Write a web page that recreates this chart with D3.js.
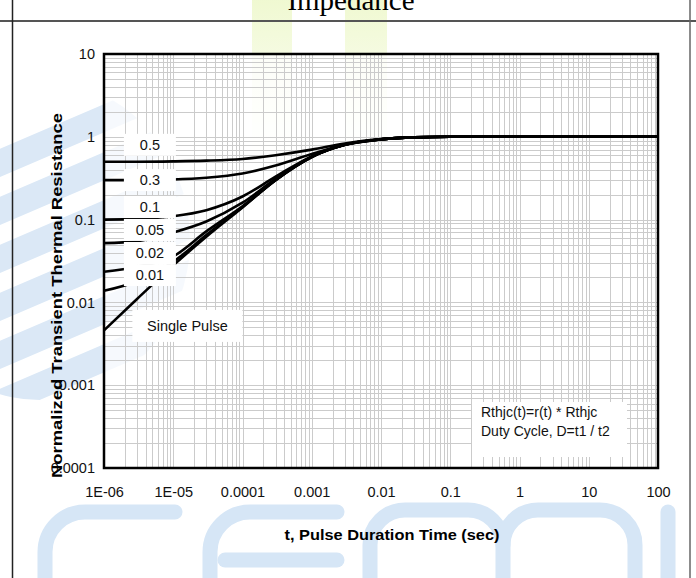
<!DOCTYPE html>
<html>
<head>
<meta charset="utf-8">
<script src="https://cdn.jsdelivr.net/npm/d3@7"></script>
<style>
  html, body { margin: 0; padding: 0; background: #fff; }
  svg { display: block; font-family: "Liberation Sans", Arial, sans-serif; }
</style>
</head>
<body>
<div id="chart"></div>
<script>
// pulse duration (sec) sampled along each curve
const times = [1e-6, 3e-6, 1e-5, 3e-5, 1e-4, 3e-4, 1e-3, 3e-3, 1e-2, 3e-2, 1e-1, 1, 10, 100];

// normalized transient thermal resistance r(t)
const d50 = [0.5, 0.5, 0.505, 0.515, 0.54, 0.6, 0.7, 0.83, 0.94, 0.985, 1, 1, 1, 1];
const d30 = [0.3, 0.3, 0.305, 0.32, 0.36, 0.45, 0.62, 0.8, 0.93, 0.985, 1, 1, 1, 1];
const d10 = [0.1, 0.102, 0.11, 0.13, 0.19, 0.33, 0.58, 0.8, 0.93, 0.985, 1, 1, 1, 1];
const d05 = [0.052, 0.055, 0.07, 0.095, 0.16, 0.31, 0.575, 0.8, 0.93, 0.985, 1, 1, 1, 1];
const d02 = [0.0235, 0.027, 0.036, 0.072, 0.145, 0.3, 0.57, 0.8, 0.93, 0.985, 1, 1, 1, 1];
const d01 = [0.0138, 0.018, 0.031, 0.065, 0.142, 0.3, 0.57, 0.8, 0.93, 0.985, 1, 1, 1, 1];
const single = [0.0046, 0.011, 0.028, 0.062, 0.14, 0.3, 0.57, 0.8, 0.93, 0.985, 1, 1, 1, 1];

const seriesValues = [d50, d30, d10, d05, d02, d01, single];
const seriesNames = ["0.5", "0.3", "0.1", "0.05", "0.02", "0.01", "Single Pulse"];

// where each curve's label sits, in data units
const labelTimes = [4.6e-6, 4.6e-6, 4.6e-6, 4.6e-6, 4.6e-6, 4.6e-6, 1.6e-5];
const labelValues = [0.8, 0.3, 0.142, 0.075, 0.0395, 0.0214, 0.0052];

const xTicks = [1e-6, 1e-5, 1e-4, 1e-3, 1e-2, 1e-1, 1, 10, 100];
const xTickLabels = ["1E-06", "1E-05", "0.0001", "0.001", "0.01", "0.1", "1", "10", "100"];
const yTicks = [1e-4, 1e-3, 1e-2, 1e-1, 1, 10];
const yTickLabels = ["0.0001", "0.001", "0.01", "0.1", "1", "10"];

const noteLines = ["Rthjc(t)=r(t) * Rthjc", "Duty Cycle, D=t1 /  t2"];

const width = 696;
const height = 578;
const plot = { left: 104, top: 54, right: 658, bottom: 468 };

const svg = d3.select("#chart").append("svg")
    .attr("width", width)
    .attr("height", height);

// faint background watermark
const wm = svg.append("g").attr("class", "watermark");
const defs = svg.append("defs");
const grad = defs.append("linearGradient")
    .attr("id", "band")
    .attr("x1", 0).attr("y1", 0).attr("x2", 0).attr("y2", 1);
grad.append("stop").attr("offset", "0%").attr("stop-color", "#eef8cc").attr("stop-opacity", 0.9);
grad.append("stop").attr("offset", "100%").attr("stop-color", "#eef8cc").attr("stop-opacity", 0);
wm.append("rect").attr("x", 252).attr("y", 0).attr("width", 40).attr("height", 160).attr("fill", "url(#band)");
wm.append("rect").attr("x", 345).attr("y", 0).attr("width", 42).attr("height", 160).attr("fill", "url(#band)");

defs.append("clipPath").attr("id", "logoClip")
    .append("ellipse")
    .attr("cx", 40).attr("cy", 240).attr("rx", 150).attr("ry", 160);
const stripes = wm.append("g").attr("clip-path", "url(#logoClip)");
d3.range(6).forEach(i => {
    stripes.append("line")
        .attr("x1", -40).attr("y1", 180 + i * 48)
        .attr("x2", 240).attr("y2", 60 + i * 48)
        .attr("stroke", "#dbe8f6")
        .attr("stroke-width", 26);
});

const letters = [
    "M175,512 H85 A40,40 0 0 0 45,552 V590",
    "M337,512 H250 A40,40 0 0 0 210,552 V590",
    "M225,560 H337",
    "M370,590 V545 A35,35 0 0 1 405,510 H468 A35,35 0 0 1 503,545 V590",
    "M503,545 A35,35 0 0 1 538,510 H600 A35,35 0 0 1 635,545 V590",
    "M668,512 V590"
];
wm.selectAll("path.letter")
    .data(letters)
    .join("path")
    .attr("class", "letter")
    .attr("d", d => d)
    .attr("fill", "none")
    .attr("stroke", "#d6e6f6")
    .attr("stroke-width", 15)
    .attr("stroke-linecap", "round");

// page frame and title
svg.append("line")
    .attr("x1", 0).attr("x2", width).attr("y1", 21).attr("y2", 21)
    .attr("stroke", "#555").attr("stroke-width", 2);
svg.append("line")
    .attr("x1", 12.5).attr("x2", 12.5).attr("y1", 0).attr("y2", height)
    .attr("stroke", "#222").attr("stroke-width", 1.5);
svg.append("line")
    .attr("x1", 690).attr("x2", 690).attr("y1", 0).attr("y2", height)
    .attr("stroke", "#666").attr("stroke-width", 1.5);
svg.append("text")
    .attr("x", 351).attr("y", 10)
    .attr("text-anchor", "middle")
    .style("font-family", "'Liberation Serif', 'Times New Roman', serif")
    .style("font-size", "29px")
    .text("Impedance");

const x = d3.scaleLog().domain([1e-6, 100]).range([plot.left, plot.right]);
const y = d3.scaleLog().domain([1e-4, 10]).range([plot.bottom, plot.top]);

svg.append("rect")
    .attr("x", plot.left).attr("y", plot.top)
    .attr("width", plot.right - plot.left)
    .attr("height", plot.bottom - plot.top)
    .attr("fill", "#fff")
    .attr("fill-opacity", 0.75);

// grid
const grid = svg.append("g").attr("class", "grid")
    .attr("stroke", "#cbcbcb").attr("stroke-width", 1);
grid.selectAll("line.v")
    .data(x.ticks())
    .join("line")
    .attr("class", "v")
    .attr("x1", d => Math.round(x(d)) + 0.5).attr("x2", d => Math.round(x(d)) + 0.5)
    .attr("y1", plot.top).attr("y2", plot.bottom);
grid.selectAll("line.h")
    .data(y.ticks())
    .join("line")
    .attr("class", "h")
    .attr("y1", d => Math.round(y(d)) + 0.5).attr("y2", d => Math.round(y(d)) + 0.5)
    .attr("x1", plot.left).attr("x2", plot.right);

// curves
const line = d3.line()
    .x(d => x(d[0]))
    .y(d => y(d[1]))
    .curve(d3.curveMonotoneX);

svg.append("g")
    .selectAll("path")
    .data(seriesValues)
    .join("path")
    .attr("d", vals => line(times.map((t, i) => [t, vals[i]])))
    .attr("fill", "none")
    .attr("stroke", "#000")
    .attr("stroke-width", 2.6);

// curve labels on white boxes
const labels = svg.append("g")
    .selectAll("g")
    .data(seriesNames)
    .join("g")
    .attr("transform", (d, i) => `translate(${x(labelTimes[i])},${y(labelValues[i])})`);
labels.append("rect")
    .attr("x", d => d === "Single Pulse" ? -55 : -26)
    .attr("y", d => d === "Single Pulse" ? -16 : -11)
    .attr("width", d => d === "Single Pulse" ? 110 : 52)
    .attr("height", d => d === "Single Pulse" ? 32 : 22)
    .attr("fill", "#fff");
labels.append("text")
    .attr("text-anchor", "middle")
    .attr("dy", "0.36em")
    .style("font-size", "14.5px")
    .attr("fill", "#111")
    .text(d => d);

// note box
const note = svg.append("g")
    .attr("transform", `translate(${plot.left + 368},${plot.top + 348})`);
note.append("rect")
    .attr("width", 155).attr("height", 55)
    .attr("fill", "#fff");
note.selectAll("text")
    .data(noteLines)
    .join("text")
    .attr("x", 9)
    .attr("y", (d, i) => 15 + i * 18.5)
    .style("font-size", "14px")
    .attr("fill", "#111")
    .text(d => d);

// border
svg.append("rect")
    .attr("x", plot.left).attr("y", plot.top)
    .attr("width", plot.right - plot.left)
    .attr("height", plot.bottom - plot.top)
    .attr("fill", "none")
    .attr("stroke", "#000")
    .attr("stroke-width", 2.5);

// axes
const xAxis = svg.append("g")
    .attr("transform", `translate(0,${plot.bottom})`)
    .call(d3.axisBottom(x).tickValues(xTicks).tickFormat((d, i) => xTickLabels[i]).tickSize(0).tickPadding(19));
const yAxis = svg.append("g")
    .attr("transform", `translate(${plot.left},0)`)
    .call(d3.axisLeft(y).tickValues(yTicks).tickFormat((d, i) => yTickLabels[i]).tickSize(0).tickPadding(9));
[xAxis, yAxis].forEach(a => {
    a.select(".domain").remove();
    a.selectAll("text")
        .style("font-size", "14.5px")
        .style("font-family", "'Liberation Sans', Arial, sans-serif")
        .attr("fill", "#111");
});

svg.append("text")
    .attr("x", 392).attr("y", 540)
    .attr("text-anchor", "middle")
    .style("font-size", "15px")
    .style("font-weight", "bold")
    .attr("textLength", 215)
    .attr("lengthAdjust", "spacingAndGlyphs")
    .text("t, Pulse Duration Time (sec)");

svg.append("text")
    .attr("transform", "translate(62,295.5) rotate(-90)")
    .attr("text-anchor", "middle")
    .style("font-size", "14px")
    .style("font-weight", "bold")
    .attr("textLength", 365)
    .attr("lengthAdjust", "spacingAndGlyphs")
    .text("Normalized Transient Thermal Resistance");
</script>
</body>
</html>
